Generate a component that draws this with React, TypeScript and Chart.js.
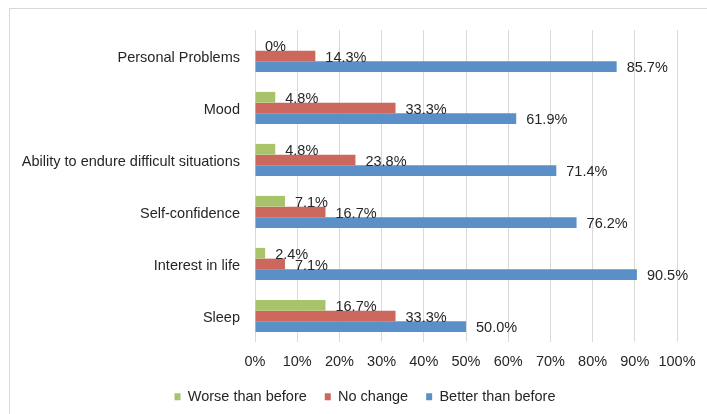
import React, { useEffect, useRef } from "react";
import { Chart, registerables } from "chart.js";

Chart.register(...registerables);

const categories = [
  "Personal Problems",
  "Mood",
  "Ability to endure difficult situations",
  "Self-confidence",
  "Interest in life",
  "Sleep",
];
const worseThanBefore = [0, 4.8, 4.8, 7.1, 2.4, 16.7];
const noChange = [14.3, 33.3, 23.8, 16.7, 7.1, 33.3];
const betterThanBefore = [85.7, 61.9, 71.4, 76.2, 90.5, 50.0];
const seriesNames = ["Worse than before", "No change", "Better than before"];
const seriesColors = ["#A8C36A", "#CB675C", "#5B8FC7"];
const xTickMin = 0;
const xTickMax = 100;
const xTickStep = 10;

const FONT = "'Liberation Sans', Arial, Helvetica, sans-serif";
const TEXT = "#262626";

const formatPct = (v: number) => (v === 0 ? "0%" : v.toFixed(1) + "%");

const barLabels = {
  id: "barLabels",
  afterDatasetsDraw(chart: any) {
    const ctx = chart.ctx;
    ctx.save();
    ctx.font = `14.5px ${FONT}`;
    ctx.fillStyle = TEXT;
    ctx.textAlign = "left";
    ctx.textBaseline = "middle";
    chart.data.datasets.forEach((ds: any, i: number) => {
      const meta = chart.getDatasetMeta(i);
      meta.data.forEach((el: any, j: number) => {
        ctx.fillText(formatPct(ds.data[j]), el.x + 10, el.y + 1.5);
      });
    });
    ctx.restore();
  },
};

// Centre the legend row under the whole frame (as in the original), not the canvas.
const legendShift = {
  id: "legendShift",
  afterLayout(chart: any) {
    if (chart.legend) chart.legend.left = 53;
  },
};

export default function App() {
  const ref = useRef<HTMLCanvasElement | null>(null);

  useEffect(() => {
    if (!ref.current) return;
    const chart = new Chart(ref.current, {
      type: "bar",
      data: {
        labels: categories,
        datasets: [
          { label: seriesNames[0], data: worseThanBefore, backgroundColor: seriesColors[0] },
          { label: seriesNames[1], data: noChange, backgroundColor: seriesColors[1] },
          { label: seriesNames[2], data: betterThanBefore, backgroundColor: seriesColors[2] },
        ],
      },
      options: {
        indexAxis: "y",
        responsive: false,
        animation: false,
        datasets: {
          bar: { categoryPercentage: 0.62, barPercentage: 1, borderWidth: 0 },
        },
        layout: { padding: { left: 0, right: 30, top: 30, bottom: 0 } },
        scales: {
          x: {
            min: xTickMin,
            max: xTickMax,
            grid: { color: "#d9d9d9", drawTicks: false },
            border: { display: false },
            ticks: {
              stepSize: xTickStep,
              padding: 11,
              maxRotation: 0,
              minRotation: 0,
              autoSkip: false,
              color: TEXT,
              font: { family: FONT, size: 14.5 },
              callback: (v: any) => v + "%",
            },
            afterFit: (scale: any) => {
              scale.height = 29.5;
            },
          },
          y: {
            grid: { display: false, drawTicks: false },
            border: { display: false },
            ticks: {
              padding: 15,
              labelOffset: 1.5,
              color: TEXT,
              font: { family: FONT, size: 14.5 },
            },
            afterFit: (scale: any) => {
              scale.width = 255;
            },
          },
        },
        plugins: {
          legend: {
            position: "bottom",
            labels: {
              boxWidth: 6,
              boxHeight: 7,
              padding: 18,
              color: TEXT,
              font: { family: FONT, size: 14.5 },
            },
          },
          tooltip: { enabled: false },
        },
      },
      plugins: [barLabels, legendShift],
    });
    return () => chart.destroy();
  }, []);

  return (
    <div
      style={{
        position: "fixed",
        left: 0,
        top: 0,
        width: 707,
        height: 414,
        overflow: "hidden",
        background: "#fff",
      }}
    >
      <div
        style={{
          position: "absolute",
          left: 9,
          top: 8,
          width: 1000,
          height: 1000,
          border: "1px solid #d9d9d9",
        }}
      />
      <canvas
        ref={ref}
        width={707}
        height={414}
        style={{ position: "absolute", left: 0, top: 0, width: 707, height: 414 }}
      />
    </div>
  );
}
